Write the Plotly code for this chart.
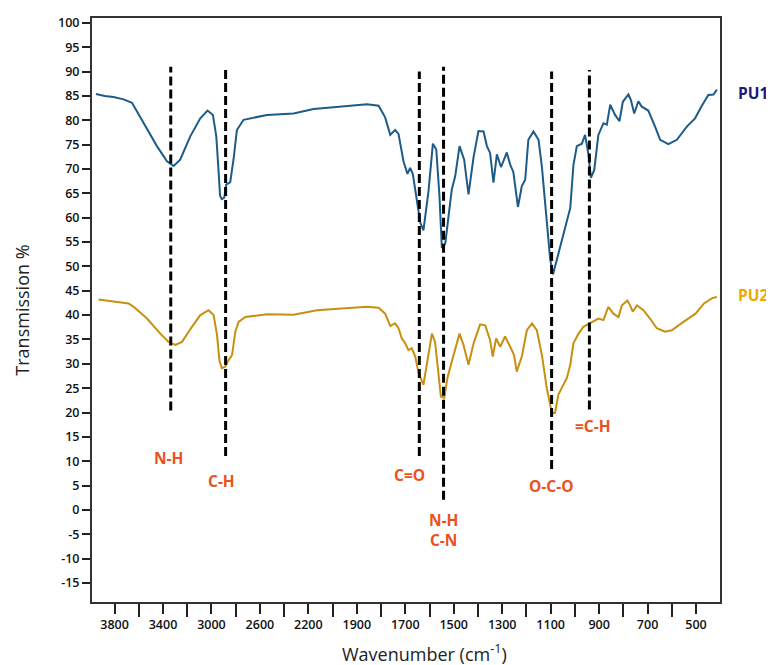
import plotly.graph_objects as go

# ---------------- data ----------------
pu1_wn = [3953, 3880, 3808, 3725, 3656, 3560, 3450, 3367, 3312, 3258, 3175, 3092, 3032, 2988,
          2960, 2942, 2929, 2914, 2894, 2878, 2845, 2818, 2790, 2735, 2542, 2322, 2157, 1996,
          1858, 1810, 1783, 1762, 1742, 1728, 1707, 1691, 1680, 1669, 1652, 1638, 1625, 1604,
          1586, 1572, 1559, 1549, 1535, 1522, 1508, 1494, 1476, 1457, 1439, 1418, 1398, 1377,
          1363, 1350, 1336, 1322, 1305, 1295, 1281, 1267, 1254, 1235, 1219, 1205, 1192, 1171,
          1150, 1136, 1118, 1102, 1090, 1074, 1047, 1019, 1006, 992, 971, 958, 944, 934, 920,
          903, 882, 868, 854, 834, 816, 802, 779, 769, 755, 738, 724, 697, 669, 648, 614, 579,
          538, 504, 476, 449, 428, 414]
pu1_t = [85.4, 85.0, 84.8, 84.3, 83.6, 79.4, 74.7, 71.6, 70.6, 71.9, 76.7, 80.4, 82.0, 81.1,
         76.7, 69.9, 64.5, 63.8, 64.1, 66.8, 67.3, 71.9, 78.0, 80.1, 81.1, 81.4, 82.3, 82.7,
         83.3, 83.0, 80.6, 77.0, 78.0, 77.2, 71.5, 69.0, 70.2, 69.0, 63.0, 59.0, 57.4, 65.5,
         75.2, 74.0, 64.5, 53.8, 54.7, 60.6, 65.8, 68.5, 74.7, 71.9, 64.8, 72.5, 77.8, 77.7,
         74.7, 73.3, 67.2, 73.0, 70.4, 71.6, 73.4, 70.9, 69.4, 62.2, 66.5, 67.8, 76.0, 77.7,
         76.0, 70.4, 61.1, 51.5, 48.4, 51.5, 56.6, 62.0, 70.8, 74.7, 75.2, 77.0, 73.0, 68.2, 69.8,
         77.0, 79.4, 79.1, 83.2, 81.1, 79.8, 83.8, 85.3, 84.2, 81.4, 83.9, 82.8, 82.0, 78.7, 76.0, 75.1, 76.0,
         78.7, 80.4, 83.0, 85.2, 85.3, 86.3]

pu2_wn = [3932, 3780, 3684, 3642, 3532, 3422, 3354, 3298, 3243, 3161, 3092, 3024, 2982, 2954,
          2933, 2914, 2886, 2858, 2830, 2803, 2776, 2720, 2542, 2322, 2130, 1858, 1810, 1783,
          1762, 1742, 1728, 1714, 1700, 1687, 1673, 1659, 1645, 1625, 1604, 1590, 1577, 1563,
          1553, 1539, 1526, 1508, 1476, 1460, 1439, 1418, 1391, 1370, 1350, 1339, 1325, 1308,
          1288, 1267, 1251, 1240, 1219, 1198, 1177, 1157, 1136, 1116, 1095, 1082, 1068, 1033,
          1019, 1006, 985, 965, 937, 903, 882, 862, 841, 820, 806, 783, 772, 761, 744, 717, 690,
          662, 628, 600, 552, 502, 467, 433, 414]
pu2_t = [43.2, 42.7, 42.4, 41.7, 39.3, 36.2, 34.5, 33.9, 34.5, 37.6, 40.0, 41.0, 40.0, 35.9,
         30.5, 29.1, 29.4, 30.8, 31.8, 36.6, 38.6, 39.6, 40.2, 40.1, 41.0, 41.7, 41.5, 40.3,
         37.8, 38.3, 37.3, 35.2, 34.2, 32.8, 33.2, 31.5, 28.1, 25.7, 31.8, 36.2, 34.5, 27.7,
         23.3, 23.0, 27.1, 30.5, 36.2, 33.9, 29.8, 34.2, 38.1, 37.9, 34.9, 31.5, 35.2, 33.5,
         35.6, 33.5, 31.8, 28.4, 31.5, 36.9, 38.3, 36.9, 31.8, 25.0, 19.9, 19.9, 23.7, 27.1,
         29.8, 34.2, 36.2, 37.6, 38.3, 39.3, 39.0, 41.7, 40.3, 39.6, 42.0, 43.0, 42.0, 40.7, 42.0, 41.0, 39.3,
         37.3, 36.6, 36.9, 38.6, 40.3, 42.4, 43.5, 43.7]

x_tick_labels = [3800, 3400, 3000, 2600, 2200, 1900, 1700, 1500, 1300, 1100, 900, 700, 500]
x_minor_ticks = [3600, 3200, 2800, 2400, 2000, 1800, 1600, 1400, 1200, 1000, 800, 600]
y_tick_values = list(range(-15, 101, 5))

band_wn = [3336, 2883, 1642, 1542, 1096, 940]
band_top = [91.0, 90.6, 90.0, 91.0, 90.0, 90.3]
band_bottom = [20.4, 11.1, 11.1, 2.1, 8.4, 20.6]

label_text = ["N-H", "C-H", "C=O", "N-H<br>C-N", "O-C-O", "=C-H"]
label_wn = [3356, 2919, 1684, 1543, 1098, 925]
label_t = [10.7, 6.0, 7.2, -4.1, 5.0, 17.2]

series_names = ["PU1", "PU2"]
x_range_wn = [3986, 401]
y_range = [-18.9, 101]


# FTIR spectrometer scale: region above 2000 cm-1 is drawn at half scale
def to_axis(w):
    return w if w <= 2000 else 2000 + (w - 2000) / 2.0


def tx(ws):
    return [to_axis(w) for w in ws]


PU1_COLOR = "#1d5b88"
PU2_COLOR = "#c8900f"
LABEL_COLOR = "#e8521c"

fig = go.Figure()
fig.add_trace(go.Scatter(x=tx(pu1_wn), y=pu1_t, mode="lines", name=series_names[0],
                         line=dict(color=PU1_COLOR, width=2), showlegend=False))
fig.add_trace(go.Scatter(x=tx(pu2_wn), y=pu2_t, mode="lines", name=series_names[1],
                         line=dict(color=PU2_COLOR, width=2), showlegend=False))

for w, y0, y1 in zip(band_wn, band_bottom, band_top):
    fig.add_trace(go.Scatter(x=[to_axis(w), to_axis(w)], y=[y0, y1], mode="lines",
                             line=dict(color="black", width=3, dash="9px,4px"),
                             showlegend=False, hoverinfo="skip"))

annotations = []
for t, w, y in zip(label_text, label_wn, label_t):
    annotations.append(dict(x=to_axis(w), y=y, xref="x", yref="y", text=t, showarrow=False,
                            font=dict(family="Open Sans", size=15.5, color=LABEL_COLOR, weight="bold"),
                            xanchor="center", yanchor="middle"))

annotations.append(dict(x=1.0525, y=0.871, xref="paper", yref="paper", text="PU1", showarrow=False,
                        font=dict(family="Open Sans", size=15.5, color="#1a1a78", weight="bold"),
                        xanchor="center", yanchor="middle"))
annotations.append(dict(x=1.0525, y=0.5255, xref="paper", yref="paper", text="PU2", showarrow=False,
                        font=dict(family="Open Sans", size=15.5, color="#f2a600", weight="bold"),
                        xanchor="center", yanchor="middle"))
annotations.append(dict(x=-0.112, y=0.50, xref="paper", yref="paper", text="Transmission %",
                        showarrow=False, textangle=-90,
                        font=dict(family="Open Sans", size=18, color="#222"),
                        xanchor="center", yanchor="middle"))
annotations.append(dict(x=0.53, y=-0.088, xref="paper", yref="paper",
                        text="Wavenumber (cm<sup>-1</sup>)", showarrow=False,
                        font=dict(family="Open Sans", size=18, color="#222"),
                        xanchor="center", yanchor="middle"))

# the page body adds an 8px offset, so margins are reduced by 8px on the left/top
fig.update_layout(
    width=774, height=665,
    margin=dict(l=84, r=62, t=6, b=71),
    paper_bgcolor="white", plot_bgcolor="white",
    annotations=annotations,
    xaxis=dict(
        range=[to_axis(x_range_wn[0]), to_axis(x_range_wn[1])],
        tickmode="array", tickvals=tx(x_tick_labels), ticktext=[str(v) for v in x_tick_labels],
        ticks="outside", ticklen=10, tickwidth=2, tickcolor="#222",
        minor=dict(tickvals=tx(x_minor_ticks), ticks="outside", ticklen=13, tickwidth=2,
                   tickcolor="#222", showgrid=False),
        showline=True, linewidth=2, linecolor="#333", mirror=True,
        showgrid=False, zeroline=False,
        tickfont=dict(family="Open Sans", size=12.5, color="#111", weight=600),
    ),
    yaxis=dict(
        range=y_range,
        tickmode="array", tickvals=y_tick_values, ticktext=[str(v) for v in y_tick_values],
        ticks="outside", ticklen=8, tickwidth=1.5, tickcolor="#222",
        showline=True, linewidth=2, linecolor="#333", mirror=True,
        showgrid=False, zeroline=False,
        tickfont=dict(family="Open Sans", size=12.5, color="#111", weight=600),
    ),
)

fig.write_html("out.html")
